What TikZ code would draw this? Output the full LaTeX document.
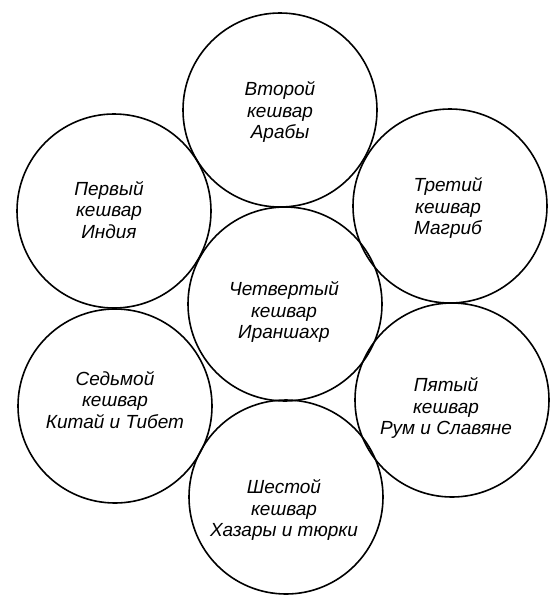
\documentclass[tikz,border=0pt]{standalone}
\usepackage{fontspec}
\setmainfont{Liberation Sans}
\begin{document}
\begin{tikzpicture}[x=1pt,y=-1pt,
  kesh/.style={circle,draw=black,line width=1.6pt,minimum size=194pt,inner sep=0pt},
  lbl/.style={align=center,font=\fontsize{19}{21.5}\selectfont\itshape,inner sep=0pt}]
\useasboundingbox (0,0) rectangle (550,600);
\node[kesh] (c2) at (280,110) {};
\node[kesh] (c1) at (114,211) {};
\node[kesh] (c3) at (450,206) {};
\node[kesh] (c4) at (285,304) {};
\node[kesh] (c7) at (115,406) {};
\node[kesh] (c5) at (452,400) {};
\node[kesh] (c6) at (286,497) {};
\node[lbl] (t2) at (280,112) {Второй\\кешвар\\Арабы};
\node[lbl] (t1) at (109,210) {Первый\\кешвар\\Индия};
\node[lbl] (t3) at (448,208) {Третий\\кешвар\\Магриб};
\node[lbl] (t4) at (284,312) {Четвертый\\кешвар\\Ираншахр};
\node[lbl] (t7) at (115,400) {Седьмой\\кешвар\\Китай и Тибет};
\node[lbl] (t5) at (446,408) {Пятый\\кешвар\\Рум и Славяне};
\node[lbl] (t6) at (284,510) {Шестой\\кешвар\\Хазары и тюрки};
\end{tikzpicture}
\end{document}
